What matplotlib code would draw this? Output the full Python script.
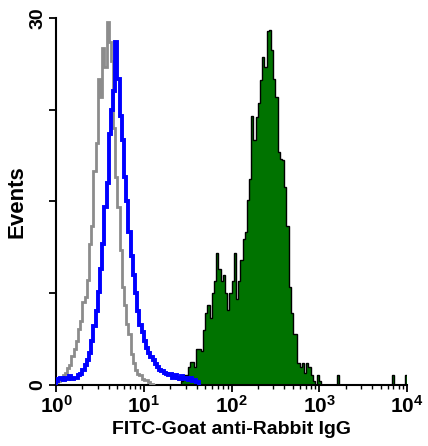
import numpy as np
import matplotlib.pyplot as plt

plt.rcParams['font.family'] = ['Liberation Sans', 'DejaVu Sans']
plt.rcParams['mathtext.fontset'] = 'custom'
plt.rcParams['mathtext.rm'] = 'Liberation Sans'
plt.rcParams['mathtext.bf'] = 'Liberation Sans:bold'

# histogram data (log10 channel start, bin width in decades, counts)
step = 0.025

gray_start = 0.0
gray_counts = [0.2, 0.3, 0.6, 0.8, 1.0, 1.4, 1.6, 2.4, 2.9, 3.6,
               4.6, 5.2, 6.8, 7.2, 8.6, 11.5, 13.0, 17.5, 19.8, 25.0,
               23.5, 27.5, 26.0, 29.7, 28.0, 26.5, 21.0, 17.0, 14.5, 11.0,
               8.0, 6.5, 5.0, 4.2, 2.5, 1.8, 1.2, 0.9, 0.8, 0.5,
               0.4, 0.4, 0.2, 0.1, 0.0]

blue_start = 0.0
blue_counts = [0.3, 0.5, 0.6, 0.4, 0.6, 0.5, 0.7, 0.5, 0.6, 0.6,
               0.8, 0.9, 1.2, 1.6, 2.0, 2.6, 3.6, 4.8, 6.0, 7.6,
               9.5, 11.5, 14.5, 16.5, 20.5, 22.5, 24.0, 28.0, 25.0, 22.0,
               20.0, 17.0, 15.0, 12.5, 10.5, 9.0, 7.5, 6.0, 4.9, 4.3,
               3.6, 3.0, 2.6, 2.3, 2.0, 1.7, 1.5, 1.2, 1.1, 1.0,
               0.9, 0.8, 0.9, 0.6, 0.8, 0.6, 0.5, 0.7, 0.5, 0.6,
               0.4, 0.6, 0.3, 0.4, 0.2]

green_start = 1.425
green_counts = [0.3, 0.8, 0.8, 1.5, 1.9, 1.9, 1.5, 2.9, 2.9, 2.8,
                4.5, 5.9, 6.5, 5.5, 7.5, 8.5, 10.8, 9.5, 8.5, 9.0,
                7.5, 6.1, 7.5, 8.5, 10.8, 7.0, 8.5, 10.2, 11.9, 12.5,
                15.1, 16.8, 22.0, 20.0, 21.9, 23.0, 24.9, 26.8, 26.0, 28.9,
                29.0, 27.4, 25.0, 23.5, 19.0, 18.5, 18.4, 16.2, 13.0, 8.0,
                5.9, 4.2, 4.2, 1.8, 1.5, 1.8, 1.0, 1.8, 1.5, 0.8,
                0.3, 0.0, 0.8, 0.3, 0.0, 0.0, 0.0, 0.0, 0.0, 0.0,
                0.0, 0.8, 0.0, 0.0, 0.0, 0.0, 0.0, 0.0, 0.0, 0.0,
                0.0, 0.0, 0.0, 0.0, 0.0, 0.0, 0.0, 0.0, 0.0, 0.0,
                0.0, 0.0, 0.0, 0.0, 0.0, 0.0, 0.8, 0.0, 0.0, 0.0,
                0.0, 0.0, 0.8, 0.0]

x_ticks = [1, 10, 100, 1000, 10000]
x_ticklabels = [r'$\mathbf{10^{0}}$', r'$\mathbf{10^{1}}$', r'$\mathbf{10^{2}}$',
                r'$\mathbf{10^{3}}$', r'$\mathbf{10^{4}}$']
y_ticks = [0, 7.5, 15, 22.5, 30]
y_ticklabels = ['0', '', '', '', '30']


def edges_for(start, counts):
    return 10 ** (start + step * np.arange(len(counts) + 1))


fig = plt.figure(figsize=(4.28, 4.46), dpi=100)
ax = fig.add_axes([0.131, 0.137, 0.82, 0.823])

ge = edges_for(green_start, green_counts)
ax.stairs(green_counts, ge, fill=True, color='#007300', zorder=1)
ax.stairs(green_counts, ge, color='black', lw=1.0, zorder=2)
ax.stairs(gray_counts, edges_for(gray_start, gray_counts), color='#8c8c8c', lw=2.0, zorder=3)
ax.stairs(blue_counts, edges_for(blue_start, blue_counts), color='#0000ff', lw=2.8, zorder=4)

ax.set_xscale('log')
ax.set_xlim(1, 10000)
ax.set_ylim(0, 30)
ax.set_xticks(x_ticks)
ax.set_xticklabels(x_ticklabels, fontsize=15)
ax.set_yticks(y_ticks)
ax.set_yticklabels(y_ticklabels, fontsize=14, fontweight='bold', rotation=90, va='center')

for s in ['top', 'right']:
    ax.spines[s].set_visible(False)
for s in ['left', 'bottom']:
    ax.spines[s].set_linewidth(1.5)
ax.tick_params(axis='both', which='major', length=5, width=1.3, pad=2)
ax.tick_params(axis='x', which='minor', length=3, width=1.0)

ax.set_xlabel('FITC-Goat anti-Rabbit IgG', fontsize=14, fontweight='bold', labelpad=3)
ax.set_ylabel('Events', fontsize=16, fontweight='bold', labelpad=1)

fig.savefig('out.png', dpi=100)
